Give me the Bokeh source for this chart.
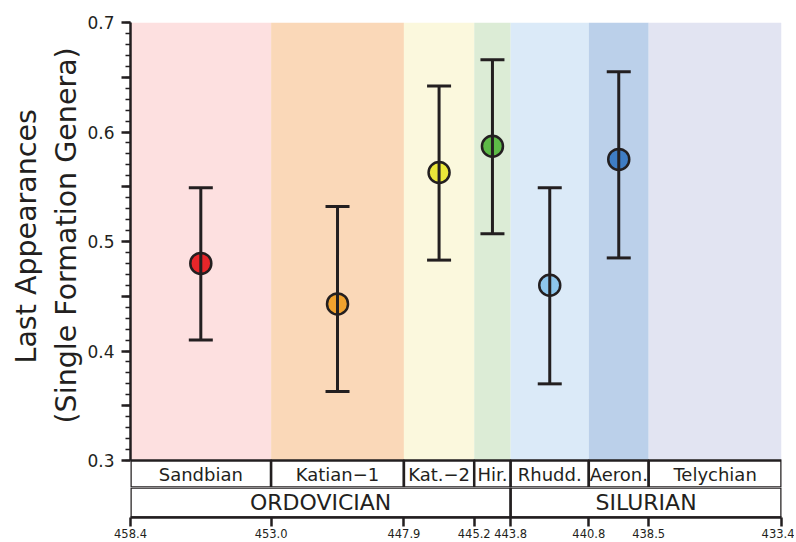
from bokeh.plotting import figure
from bokeh.layouts import column
from bokeh.models import (Range1d, FixedTicker, ColumnDataSource, Whisker,
                          TeeHead, NumeralTickFormatter, Title, CustomJSTickFormatter)
from bokeh.embed import file_html
from bokeh.resources import INLINE
from bokeh.core.properties import value

# ---------------- data ----------------
stage_names = ["Sandbian", "Katian\u22121", "Kat.\u22122", "Hir.", "Rhudd.", "Aeron.", "Telychian"]
stage_bounds = [458.4, 453.0, 447.9, 445.2, 443.8, 440.8, 438.5, 433.4]
stage_colors = ["#fde0e0", "#fad8b8", "#fbf8dd", "#dcecd6", "#dbeaf8", "#bbd0ea", "#e2e4f2"]
period_names = ["ORDOVICIAN", "SILURIAN"]
period_bounds = [458.4, 443.8, 433.4]

point_values = [0.480, 0.443, 0.563, 0.587, 0.460, 0.575]
point_lower = [0.410, 0.363, 0.483, 0.507, 0.370, 0.485]
point_upper = [0.549, 0.532, 0.642, 0.666, 0.549, 0.655]
marker_colors = ["#e8262a", "#f0a22e", "#ebe83a", "#5dba47", "#8dc6ec", "#3f7dc4"]

y_ticks = [0.3, 0.4, 0.5, 0.6, 0.7]
y_mid_step = 0.05
y_minor_step = 0.01
y_title_lines = ["(Single Formation Genera)", "Last Appearances"]

INK = "#231f20"
FONT = "DejaVu Sans"

stage_mid = [(stage_bounds[i] + stage_bounds[i + 1]) / 2 for i in range(len(stage_names))]
period_mid = [(period_bounds[i] + period_bounds[i + 1]) / 2 for i in range(len(period_names))]
n_pts = len(point_values)
span = y_ticks[-1] - y_ticks[0]
y_major = [round(y_ticks[0] + y_mid_step * i, 3) for i in range(int(round(span / y_mid_step)) + 1)]
y_minor = [round(y_ticks[0] + y_minor_step * i, 3) for i in range(int(round(span / y_minor_step)) + 1)]

# layout: 0.7 -> 22px, 0.3 -> 460px, stage row 27px tall below 0.3
TOP_PAD = 22
PLOT_PX = 438
ROW_PX = 27
px_per_unit = PLOT_PX / span
y_row = y_ticks[0] - ROW_PX / px_per_unit

xr = Range1d(stage_bounds[0], stage_bounds[-1])

# ---------------- top figure ----------------
p = figure(width=794, height=TOP_PAD + PLOT_PX + ROW_PX, x_range=xr,
           y_range=Range1d(y_row, y_ticks[-1]),
           output_backend="svg", toolbar_location=None, x_axis_location=None,
           min_border_left=130, min_border_right=13, min_border_top=TOP_PAD, min_border_bottom=0)
p.outline_line_color = None
p.grid.grid_line_color = None

p.quad(left=stage_bounds[:-1], right=stage_bounds[1:], bottom=y_ticks[0], top=y_ticks[-1],
       fill_color=stage_colors, line_color=None)

# stage boxes
p.quad(left=stage_bounds[:-1], right=stage_bounds[1:], bottom=y_row, top=y_ticks[0],
       fill_color="white", line_color=INK, line_width=2.5)
p.text(x=stage_mid, y=[(y_row + y_ticks[0]) / 2] * len(stage_mid), text=stage_names,
       text_align="center", text_baseline="middle", text_font=value(FONT),
       text_font_size="18px", text_color=INK)

src = ColumnDataSource(dict(x=stage_mid[:n_pts], y=point_values, lo=point_lower,
                            hi=point_upper, c=marker_colors))
wh = Whisker(base="x", upper="hi", lower="lo", source=src, dimension="height",
             line_color=INK, line_width=3, level="overlay",
             upper_head=TeeHead(size=24, line_width=3, line_color=INK),
             lower_head=TeeHead(size=24, line_width=3, line_color=INK))
p.add_layout(wh)
p.scatter(x="x", y="y", source=src, size=21, fill_color="c", line_color=INK,
          line_width=2.5, level="overlay")

ya = p.yaxis[0]
ya.bounds = (y_ticks[0], y_ticks[-1])
ya.ticker = FixedTicker(ticks=y_major, minor_ticks=y_minor)
ya.formatter = CustomJSTickFormatter(
    args=dict(labels=y_ticks),
    code="""
    for (const v of labels) { if (Math.abs(tick - v) < 1e-6) return v.toFixed(1); }
    return "";
""")
ya.axis_line_width = 2.5
ya.axis_line_color = INK
ya.major_tick_line_width = 2.5
ya.major_tick_line_color = INK
ya.major_tick_out = 9
ya.major_tick_in = 0
ya.minor_tick_line_width = 1.5
ya.minor_tick_line_color = INK
ya.minor_tick_out = 5
ya.minor_tick_in = 0
ya.major_label_text_font = FONT
ya.major_label_text_font_size = "17px"
ya.major_label_text_color = INK
ya.major_label_standoff = 7

# two-line y title, placed from the bottom of the frame
for txt, off, stand in zip(y_title_lines, [64, 124], [4, 6]):
    p.add_layout(Title(text=txt, align="left", offset=off, standoff=stand,
                       text_font=FONT, text_font_size="28.5px",
                       text_font_style="normal", text_color=INK), "left")

# ---------------- bottom figure (periods + age axis) ----------------
pb = figure(width=794, height=540 - (TOP_PAD + PLOT_PX + ROW_PX), x_range=xr,
            y_range=Range1d(0, 1),
            output_backend="svg", toolbar_location=None, y_axis_location=None,
            min_border_left=130, min_border_right=13, min_border_top=0, min_border_bottom=0)
pb.outline_line_color = None
pb.grid.grid_line_color = None

pb.quad(left=period_bounds[:-1], right=period_bounds[1:], bottom=0, top=1,
        fill_color="white", line_color=INK, line_width=2.5)
pb.text(x=period_mid, y=[0.5] * len(period_mid), text=period_names,
        text_align="center", text_baseline="middle", text_font=value(FONT),
        text_font_size="22px", text_color=INK)

xa = pb.xaxis[0]
xa.ticker = FixedTicker(ticks=stage_bounds)
xa.formatter = NumeralTickFormatter(format="0.0")
xa.axis_line_width = 2.5
xa.axis_line_color = INK
xa.major_tick_line_width = 2.5
xa.major_tick_line_color = INK
xa.major_tick_out = 9
xa.major_tick_in = 0
xa.minor_tick_line_color = None
xa.major_label_text_font = FONT
xa.major_label_text_font_size = "11.5px"
xa.major_label_text_color = INK
xa.major_label_standoff = 2

layout = column(p, pb, spacing=0)
open("out.html", "w").write(file_html(layout, INLINE))
